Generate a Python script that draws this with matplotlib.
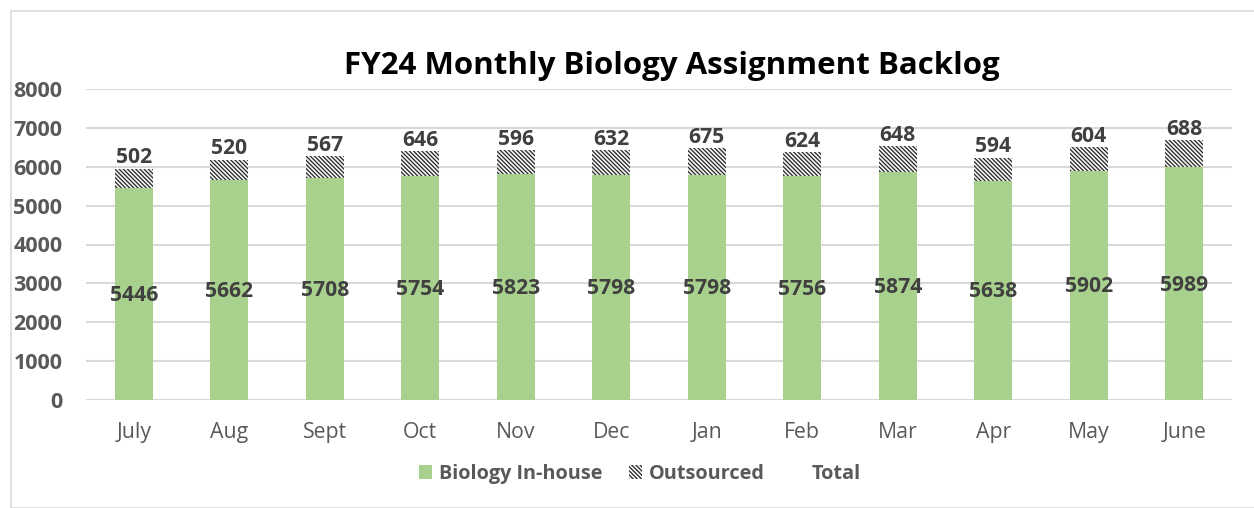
import matplotlib
matplotlib.use("Agg")
import matplotlib.pyplot as plt
from matplotlib.patches import Patch, Rectangle
import numpy as np

months = ["July", "Aug", "Sept", "Oct", "Nov", "Dec", "Jan", "Feb", "Mar", "Apr", "May", "June"]
inhouse = [5446, 5662, 5708, 5754, 5823, 5798, 5798, 5756, 5874, 5638, 5902, 5989]
outsourced = [502, 520, 567, 646, 596, 632, 675, 624, 648, 594, 604, 688]
yticks = [0, 1000, 2000, 3000, 4000, 5000, 6000, 7000, 8000]

FAM = ['Open Sans', 'DejaVu Sans']
plt.rcParams['font.family'] = FAM
plt.rcParams['hatch.linewidth'] = 0.9

fig = plt.figure(figsize=(12.54, 5.08), dpi=100)
ax = fig.add_axes([86/1254, 1 - 400/508, (1232-86)/1254, (400-89)/508])

x = np.arange(len(months))
green = "#a9d18e"
HATCH = "\\" * 8
b1 = ax.bar(x, inhouse, width=0.4, color=green, zorder=3)
b2 = ax.bar(x, outsourced, width=0.4, bottom=inhouse, facecolor="#f5f5f5",
            edgecolor="#262626", hatch=HATCH, linewidth=0, zorder=3)

for xi, v in zip(x, inhouse):
    ax.text(xi, v / 2 - 40, str(v), ha="center", va="center", fontsize=15.2,
            fontweight="bold", color="#404040", zorder=4)
for xi, v, o in zip(x, inhouse, outsourced):
    ax.text(xi, v + o + 10, str(o), ha="center", va="bottom", fontsize=15.2,
            fontweight="bold", color="#404040", zorder=4)

ax.set_xlim(-0.5, len(months) - 0.5)
ax.set_ylim(0, 8000)
ax.set_yticks(yticks)
ax.set_yticklabels([str(t) for t in yticks], fontsize=15.5, fontweight="bold", color="#595959")
ax.set_xticks(x)
ax.set_xticklabels(months, fontsize=15.3, color="#595959")
ax.tick_params(axis="both", length=0)
ax.tick_params(axis="y", pad=17)
ax.tick_params(axis="x", pad=16)
ax.yaxis.grid(True, color="#d9d9d9", linewidth=1.5, zorder=0)
for s in ax.spines.values():
    s.set_visible(False)

fig.text(672/1254, 1 - 66/508, "FY24 Monthly Biology Assignment Backlog", ha="center",
         va="center", fontsize=22.5, fontweight="bold", color="black")

handles = [Patch(facecolor=green, edgecolor="none"),
           Patch(facecolor="#f5f5f5", edgecolor="#262626", hatch=HATCH, linewidth=0),
           Patch(facecolor="none", edgecolor="none")]
leg = fig.legend(handles, ["Biology In-house", "Outsourced", "Total"], loc="center",
                 bbox_to_anchor=(640/1254, 1 - 474/508), ncol=3, frameon=False,
                 handlelength=0.65, handleheight=0.65, handletextpad=0.35, columnspacing=1.35,
                 prop={"family": FAM, "weight": "bold", "size": 14.3})
for t in leg.get_texts():
    t.set_color("#595959")

fig.patches.append(Rectangle((11/1254, 0), 1.2, 1 - 11/508, transform=fig.transFigure,
                             facecolor="none", edgecolor="#d9d9d9", linewidth=1.2))

fig.savefig("out.png", dpi=100)
